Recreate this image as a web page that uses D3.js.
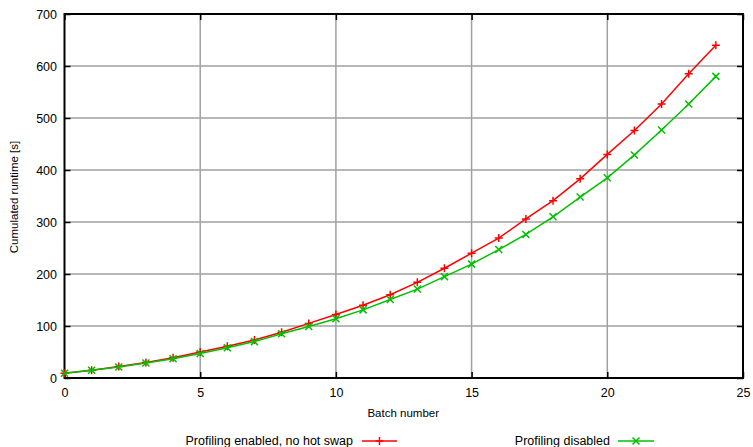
<!DOCTYPE html>
<html>
<head>
<meta charset="utf-8">
<script src="https://cdn.jsdelivr.net/npm/d3@7"></script>
<style>
  body { margin: 0; background: #fff; }
  svg { display: block; font-family: "Liberation Sans", Arial, sans-serif; }
</style>
</head>
<body>
<svg id="chart" width="753" height="447"></svg>
<script>
// Batch index and cumulated runtimes (seconds)
const batches = d3.range(0, 25);
const hotSwapOff = [9, 15, 22, 30, 39, 50, 61, 73, 88, 105, 122, 140, 160, 184, 211, 240, 269, 306, 341, 383, 430, 476, 527, 585, 640];
const profilingOff = [9, 15, 21, 29, 37, 47, 58, 70, 85, 99, 114, 131, 151, 171, 195, 219, 247, 276, 310, 348, 385, 429, 477, 527, 580];
const xTicks = [0, 5, 10, 15, 20, 25];
const yTicks = [0, 100, 200, 300, 400, 500, 600, 700];

const series = [
  { name: "Profiling enabled, no hot swap", values: hotSwapOff, color: "#ff0000", marker: "plus" },
  { name: "Profiling disabled", values: profilingOff, color: "#00c000", marker: "cross" }
];

const svg = d3.select("#chart");
const plotL = 64.5, plotR = 743, plotT = 14, plotB = 378;

const x = d3.scaleLinear().domain([0, 25]).range([plotL, plotR]);
const y = d3.scaleLinear().domain([0, 700]).range([plotB, plotT]);

// Grid
const grid = svg.append("g").attr("stroke", "#a0a0a0").attr("stroke-width", 1.5);
xTicks.slice(1, -1).forEach(t => {
  grid.append("line").attr("x1", x(t)).attr("x2", x(t)).attr("y1", plotT).attr("y2", plotB);
});
yTicks.slice(1, -1).forEach(t => {
  grid.append("line").attr("x1", plotL).attr("x2", plotR).attr("y1", y(t)).attr("y2", y(t));
});

// Axes with inward ticks on all four sides
const tickLen = 6;
const axisStyle = g => {
  g.select(".domain").remove();
  g.selectAll(".tick line").attr("stroke", "#000").attr("stroke-width", 1.5);
  g.selectAll(".tick text").attr("fill", "#000").attr("font-size", 12.5)
    .attr("font-family", "Liberation Sans, Arial, sans-serif");
};
svg.append("g").attr("transform", `translate(0,${plotB})`)
  .call(d3.axisBottom(x).tickValues(xTicks).tickSize(-tickLen).tickPadding(10).tickFormat(d3.format("d")))
  .call(axisStyle);
svg.append("g").attr("transform", `translate(0,${plotT})`)
  .call(d3.axisTop(x).tickValues(xTicks).tickSize(-tickLen).tickFormat(""))
  .call(axisStyle);
svg.append("g").attr("transform", `translate(${plotL},0)`)
  .call(d3.axisLeft(y).tickValues(yTicks).tickSize(-tickLen).tickPadding(7.5).tickFormat(d3.format("d")))
  .call(axisStyle);
svg.append("g").attr("transform", `translate(${plotR},0)`)
  .call(d3.axisRight(y).tickValues(yTicks).tickSize(-tickLen).tickFormat(""))
  .call(axisStyle);

// Frame
svg.append("rect").attr("x", plotL).attr("y", plotT)
  .attr("width", plotR - plotL).attr("height", plotB - plotT)
  .attr("fill", "none").attr("stroke", "#000").attr("stroke-width", 2);

const markerPath = (type, s) => type === "plus"
  ? `M${-s},0H${s}M0,${-s}V${s}`
  : `M${-s},${-s}L${s},${s}M${-s},${s}L${s},${-s}`;

// Series
const line = d3.line().x((d, i) => x(batches[i])).y(d => y(d));
series.forEach(s => {
  svg.append("path").datum(s.values).attr("d", line)
    .attr("fill", "none").attr("stroke", s.color).attr("stroke-width", 1.5);
  svg.append("g").selectAll("path").data(s.values).join("path")
    .attr("transform", (d, i) => `translate(${x(batches[i])},${y(d)})`)
    .attr("d", markerPath(s.marker, s.marker === "plus" ? 4 : 3.5))
    .attr("stroke", s.color).attr("stroke-width", 1.5).attr("fill", "none");
});

// Axis titles
svg.append("text").attr("x", (plotL + plotR) / 2 - 0.5).attr("y", 417)
  .attr("text-anchor", "middle").attr("font-size", 11.5).text("Batch number");
svg.append("text").attr("transform", `translate(17.5,${(plotT + plotB) / 2 + 1}) rotate(-90)`)
  .attr("text-anchor", "middle").attr("font-size", 11.5).text("Cumulated runtime [s]");

// Legend
const legendItems = [
  { s: series[0], textEnd: 353, lineStart: 362, lineEnd: 397 },
  { s: series[1], textEnd: 610, lineStart: 618, lineEnd: 654 }
];
legendItems.forEach(it => {
  svg.append("text").attr("x", it.textEnd).attr("y", 445)
    .attr("text-anchor", "end").attr("font-size", 12.5).text(it.s.name);
  svg.append("line").attr("x1", it.lineStart).attr("x2", it.lineEnd).attr("y1", 441).attr("y2", 441)
    .attr("stroke", it.s.color).attr("stroke-width", 1.5);
  svg.append("path").attr("transform", `translate(${(it.lineStart + it.lineEnd) / 2},441)`)
    .attr("d", markerPath(it.s.marker, it.s.marker === "plus" ? 4 : 3.5))
    .attr("stroke", it.s.color).attr("stroke-width", 1.5).attr("fill", "none");
});
</script>
</body>
</html>
